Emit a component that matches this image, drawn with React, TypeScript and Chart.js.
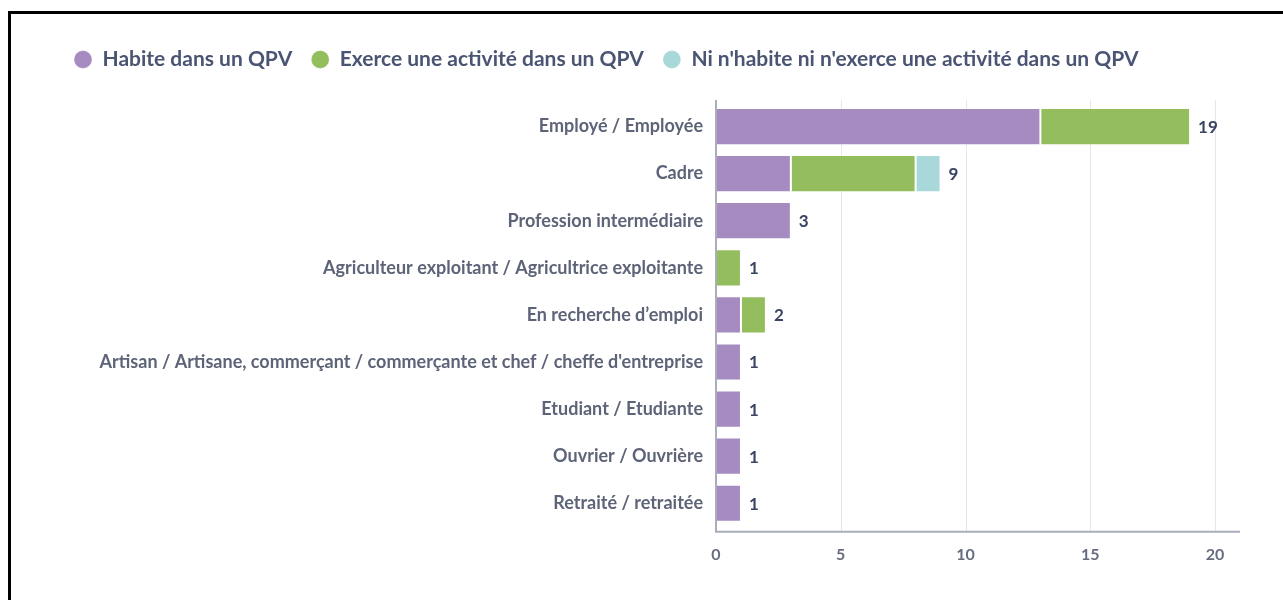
import React, { useEffect, useRef } from "react";
import { Chart, registerables } from "chart.js";

Chart.register(...registerables);

const categories = [
  "Employé / Employée",
  "Cadre",
  "Profession intermédiaire",
  "Agriculteur exploitant / Agricultrice exploitante",
  "En recherche d’emploi",
  "Artisan / Artisane, commerçant / commerçante et chef / cheffe d'entreprise",
  "Etudiant / Etudiante",
  "Ouvrier / Ouvrière",
  "Retraité / retraitée",
];

const seriesNames = [
  "Habite dans un QPV",
  "Exerce une activité dans un QPV",
  "Ni n'habite ni n'exerce une activité dans un QPV",
];

const habite = [13, 3, 3, 0, 1, 1, 1, 1, 1];
const exerce = [6, 5, 0, 1, 1, 0, 0, 0, 0];
const niNi = [0, 1, 0, 0, 0, 0, 0, 0, 0];

const xTickValues = [0, 5, 10, 15, 20];
const xMax = 21;

const colors = ["#a68bc1", "#94be5e", "#a9d8da"];

const FONT = "Lato, 'Noto Sans', sans-serif";

export default function App() {
  const canvasRef = useRef<HTMLCanvasElement | null>(null);

  useEffect(() => {
    const canvas = canvasRef.current;
    if (!canvas) return;

    const legendSpacer = {
      id: "legendSpacer",
      beforeInit(chart: any) {
        const l = chart.legend;
        if (l && !l.__patched) {
          const f = l.fit;
          l.fit = function () {
            f.call(this);
            this.height += 23;
          };
          l.__patched = true;
        }
      },
    };

    const axesPlugin = {
      id: "axesPlugin",
      beforeDatasetsDraw(chart: any) {
        const { ctx, chartArea: a, scales } = chart;
        const x = scales.x;
        const top = a.top - 3;
        const bottom = a.bottom + 5;
        ctx.save();
        ctx.strokeStyle = "#e6e7eb";
        ctx.lineWidth = 1;
        x.ticks.forEach((t: any) => {
          if (t.value === 0) return;
          const px = Math.round(x.getPixelForValue(t.value)) + 0.5;
          ctx.beginPath();
          ctx.moveTo(px, top);
          ctx.lineTo(px, bottom);
          ctx.stroke();
        });
        ctx.restore();
      },
      afterDatasetsDraw(chart: any) {
        const { ctx, chartArea: a, scales } = chart;
        const x = scales.x;
        const y = scales.y;
        const top = a.top - 3;
        const bottom = a.bottom + 5;
        ctx.save();
        ctx.strokeStyle = "#a9adbc";
        ctx.lineWidth = 2;
        const x0 = x.getPixelForValue(0);
        ctx.beginPath();
        ctx.moveTo(x0, top);
        ctx.lineTo(x0, bottom);
        ctx.lineTo(a.right, bottom);
        ctx.stroke();

        // totals
        ctx.fillStyle = "#3a4361";
        ctx.font = `bold 17px ${FONT}`;
        ctx.textBaseline = "middle";
        ctx.textAlign = "left";
        categories.forEach((_, i) => {
          const total = habite[i] + exerce[i] + niNi[i];
          const px = x.getPixelForValue(total) + 8;
          const py = y.getPixelForValue(i) + 1;
          ctx.fillText(String(total), px, py);
        });
        ctx.restore();
      },
    };

    const chart = new Chart(canvas, {
      type: "bar",
      data: {
        labels: categories,
        datasets: [habite, exerce, niNi].map((d, i) => ({
          label: seriesNames[i],
          data: d,
          backgroundColor: colors[i],
          borderColor: "rgba(255,255,255,0.3)",
          borderWidth: 1,
          borderSkipped: false,
          categoryPercentage: 1,
          barPercentage: 0.79,
        })),
      },
      options: {
        indexAxis: "y",
        animation: false,
        responsive: false,
        layout: { padding: { left: 44, right: 33, top: 16, bottom: 18 } },
        plugins: {
          tooltip: { enabled: false },
          legend: {
            position: "top",
            align: "start",
            labels: {
              usePointStyle: true,
              pointStyle: "circle",
              pointStyleWidth: 18,
              boxHeight: 12.7,
              padding: 19,
              color: "#4a5473",
              font: { family: FONT, size: 21, weight: "bold" },
            },
          },
        },
        scales: {
          x: {
            stacked: true,
            min: 0,
            max: xMax,
            grid: { display: false, drawTicks: false },
            border: { display: false },
            afterBuildTicks(scale: any) {
              scale.ticks = xTickValues.map((v) => ({ value: v }));
            },
            ticks: {
              padding: 18,
              color: "#676c7f",
              font: { family: FONT, size: 16, weight: "bold" },
            },
          },
          y: {
            stacked: true,
            grid: { display: false, drawTicks: false },
            border: { display: false },
            afterFit(scale: any) {
              scale.width = 661;
            },
            ticks: {
              padding: 13,
              color: "#5e6478",
              autoSkip: false,
              font: { family: FONT, size: 18, weight: "bold" },
            },
          },
        },
      },
      plugins: [legendSpacer, axesPlugin],
    });

    return () => chart.destroy();
  }, []);

  return (
    <div
      style={{
        position: "fixed",
        left: 8,
        top: 11,
        width: 1300,
        height: 620,
        border: "3px solid #000",
        boxSizing: "border-box",
        background: "#fff",
      }}
    >
      <canvas ref={canvasRef} width={1262} height={586} style={{ display: "block" }} />
    </div>
  );
}
